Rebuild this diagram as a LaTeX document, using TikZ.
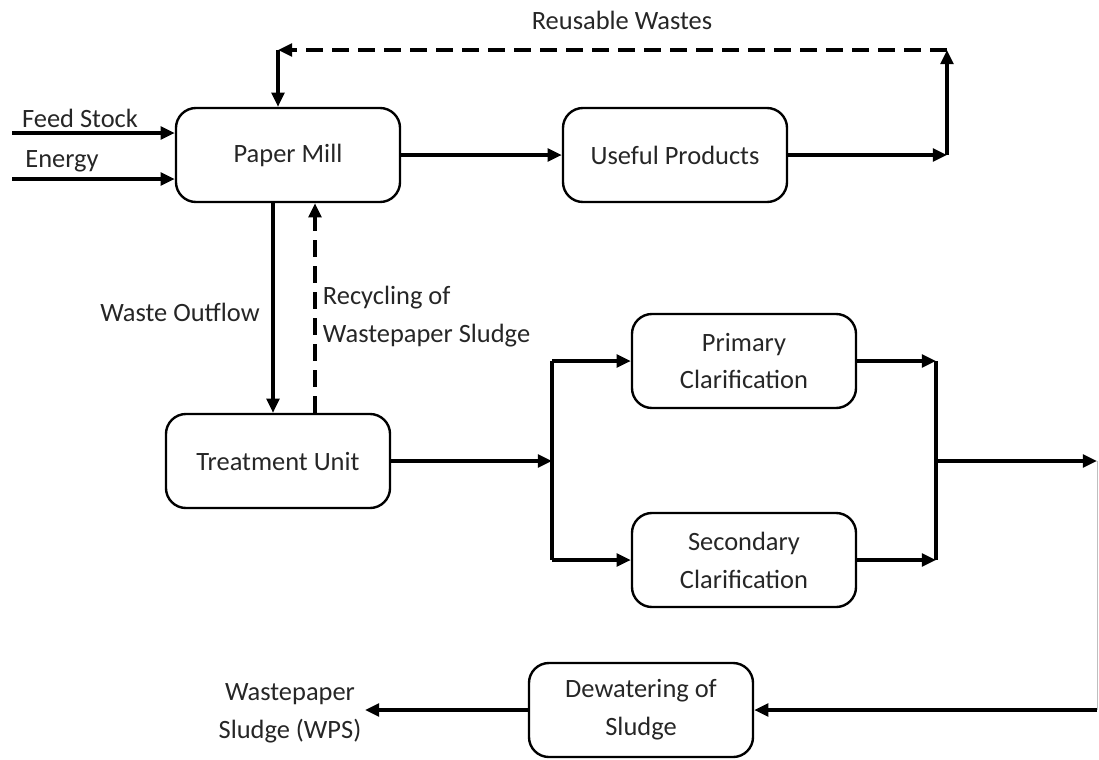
\documentclass[tikz,border=0pt]{standalone}
\usepackage{fontspec}
\setmainfont{Carlito}
\usetikzlibrary{positioning, arrows.meta}

\newcommand{\diagfont}{\fontsize{18.8}{27}\selectfont}

\begin{document}
\begin{tikzpicture}[x=0.025cm, y=-0.025cm,
    every node/.style={text=black!85, font=\diagfont},
    box/.style={draw=black, rounded corners=0.5cm, line width=1.7pt, minimum width=5.6cm, minimum height=2.35cm, align=center},
    arr/.style={line width=2.2pt, -{Triangle[length=10pt, width=9pt]}},
    plain/.style={line width=2.2pt},
    dashedarr/.style={arr, dash pattern=on 12pt off 6.5pt}]
      \useasboundingbox (0,0) rectangle (1099,759);

      % Nodes
      \node[box] (pm) at (288,155) {Paper Mill};
      \node[box] (up) at (675,155) {Useful Products};
      \node[box] (tu) at (278,461) {Treatment Unit};
      \node[box] (pc) at (744,361) {Primary\\Clarification};
      \node[box] (sc) at (744,560) {Secondary\\Clarification};
      \node[box] (dw) at (641,710) {Dewatering of\\Sludge};

      % Junctions and free ends
      \coordinate (fs) at (12,133);
      \coordinate (en) at (12,179);
      \coordinate (rtop) at (947,50);
      \coordinate (ltop) at (278,50);
      \coordinate (wo) at (273,300);
      \coordinate (rc) at (315,300);
      \coordinate (jl) at (552,461);
      \coordinate (jr) at (936,461);
      \coordinate (edge) at (1097,461);
      \coordinate (wps) at (365,710);

      % Edges
      \draw[arr] (fs) -- (fs -| pm.west);
      \draw[arr] (en) -- (en -| pm.west);
      \draw[arr] (pm.east) -- (up.west);
      \draw[arr] (up.east) -- (up.east -| rtop);
      \draw[arr] (up.east -| rtop) -- (rtop);
      \draw[dashedarr] (rtop) -- (ltop);
      \draw[arr] (ltop) -- (pm.north -| ltop);
      \draw[arr] (pm.south -| wo) -- (tu.north -| wo);
      \draw[dashedarr] (tu.north -| rc) -- (pm.south -| rc);
      \draw[arr] (tu.east) -- (jl);
      \draw[plain] (pc.west -| jl) -- (sc.west -| jl);
      \draw[arr] (pc.west -| jl) -- (pc.west);
      \draw[arr] (sc.west -| jl) -- (sc.west);
      \draw[arr] (pc.east) -- (pc.east -| jr);
      \draw[arr] (sc.east) -- (sc.east -| jr);
      \draw[plain] (pc.east -| jr) -- (sc.east -| jr);
      \draw[arr] (jr) -- (edge);
      \draw[black!25, line width=0.6pt] (edge) -- (edge |- dw.east);
      \draw[arr] (edge |- dw.east) -- (dw.east);
      \draw[arr] (dw.west) -- (wps);

      % Labels
      \node (fsl) at (80,118) {Feed Stock};
      \node (enl) at (62,161) {Energy};
      \node (rwl) at (622,20) {Reusable Wastes};
      \node (wol) at (180,312) {Waste Outflow};
      \node[anchor=west, align=left] (rcl) at (318,317) {Recycling of\\Wastepaper Sludge};
      \node[align=center] (wpsl) at (290,713) {Wastepaper\\Sludge (WPS)};
    \end{tikzpicture}
\end{document}
